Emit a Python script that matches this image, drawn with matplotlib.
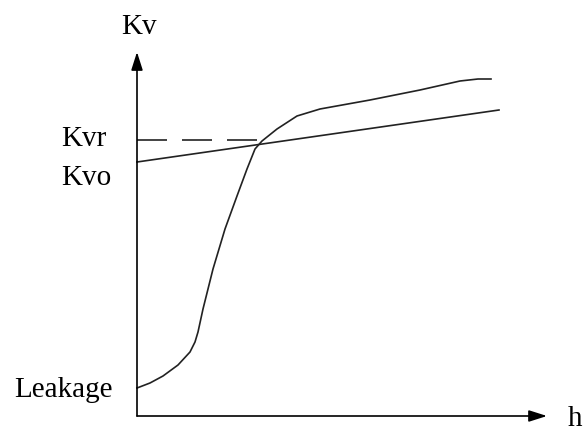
import matplotlib.pyplot as plt

plt.rcParams['font.family'] = ['Liberation Serif', 'DejaVu Serif']

# valve curve (h, Kv in arbitrary units)
h_valve = [0, 13, 26, 41, 53, 58, 61, 66, 71, 76, 82, 88, 100, 110, 118, 125,
           140, 160, 183, 233, 283, 323, 341, 354]
kv_valve = [28, 33, 40, 51, 64, 74, 84, 107, 127, 147, 167, 187, 220, 247, 267, 275,
            287, 300, 307, 316, 326, 335, 337, 337]

# straight reference line
h_line = [0, 362]
kv_line = [254, 306]

# Kvr level and the intersection h
kv_r = 276
h_r = 123

labels = ["Kvr", "Kvo", "Leakage"]
label_h = [-76, -76, -123]
label_kv = [278, 239, 27]

fig = plt.figure(figsize=(5.83, 4.39), dpi=100)
ax = fig.add_axes([0, 0, 1, 1])
ax.set_xlim(-137, 446)
ax.set_ylim(-22, 417)
ax.axis("off")

lw = 1.2
ax.plot(h_valve, kv_valve, color="#222222", lw=lw)
ax.plot(h_line, kv_line, color="#222222", lw=lw)
ax.plot([0, h_r], [kv_r, kv_r], color="#222222", lw=lw, linestyle=(0, (18, 9)))

# axes with arrows
arrow = dict(arrowstyle="-|>,head_length=1.1,head_width=0.35", color="black", lw=lw,
             shrinkA=0, shrinkB=0)
ax.annotate("", xy=(0, 364), xytext=(0, 0), arrowprops=arrow)
ax.annotate("", xy=(410, 0), xytext=(0, 0), arrowprops=arrow)

fs = 21
ax.text(2, 390, "Kv", fontsize=fs, ha="center", va="center")
ax.text(438, -2, "h", fontsize=fs, ha="center", va="center")
for lab, x, kv in zip(labels, label_h, label_kv):
    ax.text(x, kv, lab, fontsize=fs, ha="left", va="center")

fig.savefig("out.png", dpi=100)
